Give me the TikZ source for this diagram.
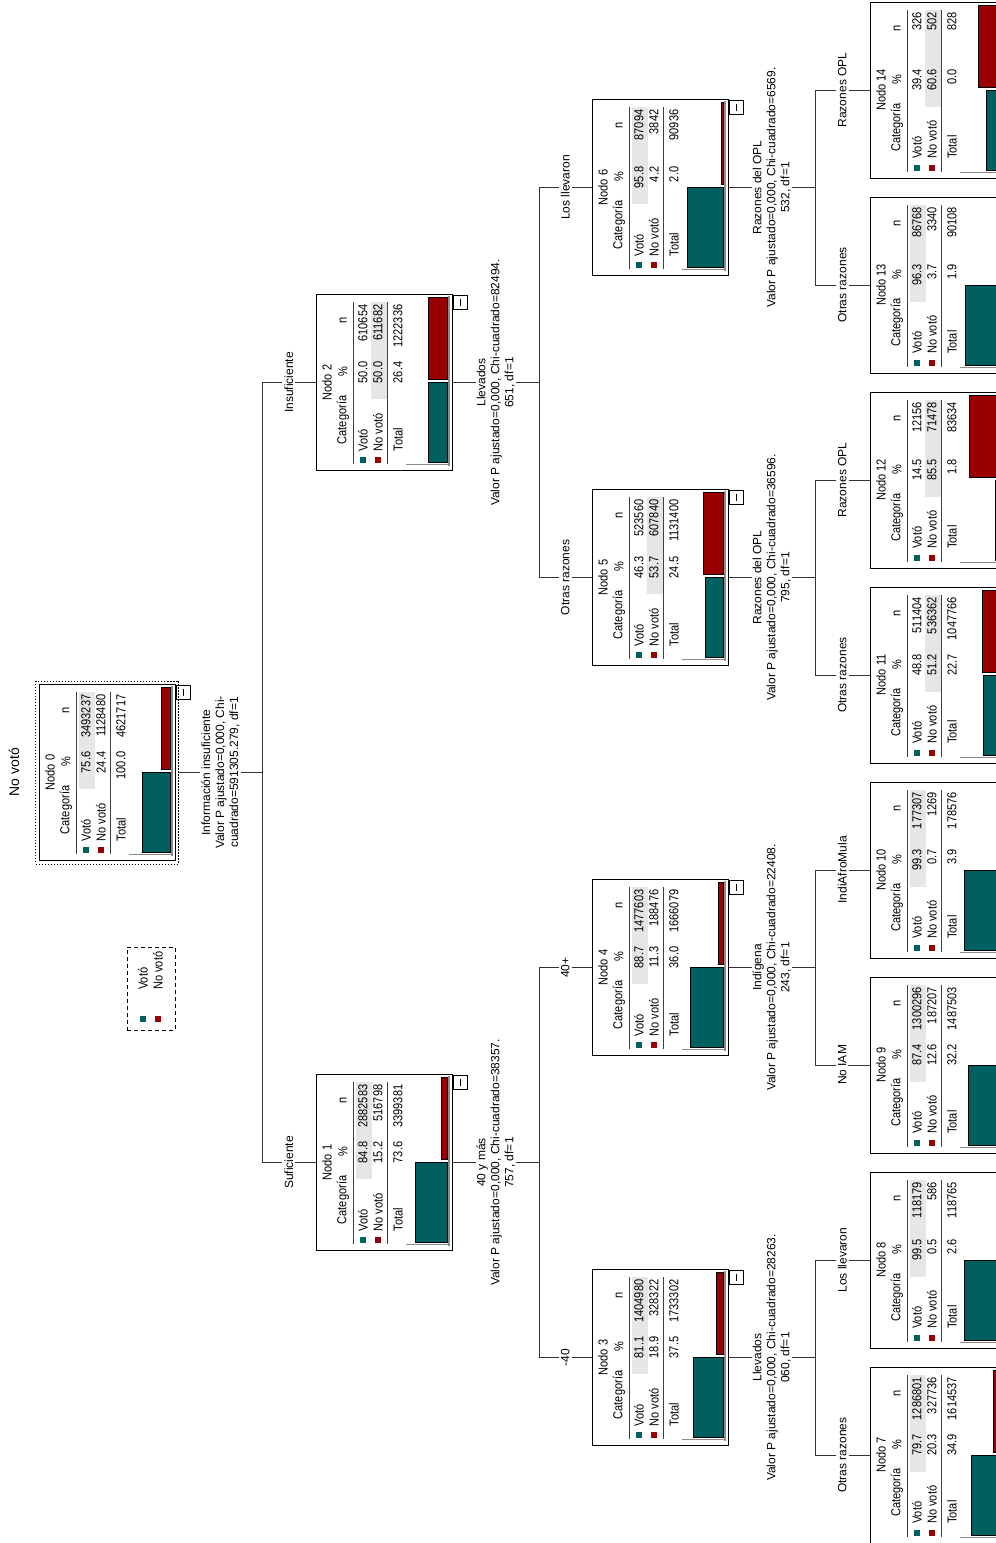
\documentclass[tikz,border=0pt]{standalone}
\usepackage{fontspec}
\setmainfont{Liberation Sans}
\newfontfamily\tabfam{Liberation Sans}[FakeStretch=0.85]
\newcommand{\lblfont}{\fontsize{12}{14}\selectfont}
\newcommand{\tabfont}{\tabfam\fontsize{13}{15}\selectfont}
\definecolor{Voto}{HTML}{005F5F}
\definecolor{NoVoto}{HTML}{990000}
\definecolor{RowGray}{HTML}{E6E6E6}
\tikzset{
    every node/.style={font=\lblfont},
    nodebox/.style={
        draw=black, line width=0.9pt,
        minimum width=176pt, minimum height=136pt,
        inner sep=0pt
    },
    rootframe/.style={
        draw=black, line width=0.8pt, dash pattern=on 1.5pt off 1.5pt,
        minimum width=183pt, minimum height=143pt, inner sep=0pt
    },
    cell/.style={font=\tabfont, inner sep=0pt},
    splitlabel/.style={fill=white, align=center, inner sep=1pt},
    branchlabel/.style={fill=white, inner sep=2pt},
    link/.style={draw=black!80, line width=0.9pt},
    rowline/.style={draw=black!75, line width=0.8pt},
    bar/.style={draw=black, line width=0.8pt},
}

\begin{document}
\begin{tikzpicture}[x=1pt, y=1pt]
    \useasboundingbox (0,0) rectangle (996,1543);
    \fill[white] (0,0) rectangle (996,1543);
    \clip (0,0) rectangle (996,1543);

    \begin{scope}[rotate=90, transform shape]
    % Nodes
    \foreach \nm/\bx/\by/\idx/\hrow/\pa/\pb/\ptot/\ca/\cb/\ctot in {
        n0/682.5/-39/0/1/75.6/24.4/100.0/3493237/1128480/4621717,
        n1/292.5/-316/1/1/84.8/15.2/73.6/2882583/516798/3399381,
        n2/1072.5/-316/2/2/50.0/50.0/26.4/610654/611682/1222336,
        n3/97.5/-592/3/1/81.1/18.9/37.5/1404980/328322/1733302,
        n4/487.5/-592/4/1/88.7/11.3/36.0/1477603/188476/1666079,
        n5/877.5/-592/5/2/46.3/53.7/24.5/523560/607840/1131400,
        n6/1267.5/-592/6/1/95.8/4.2/2.0/87094/3842/90936,
        n7/0/-870/7/1/79.7/20.3/34.9/1286801/327736/1614537,
        n8/195/-870/8/1/99.5/0.5/2.6/118179/586/118765,
        n9/390/-870/9/1/87.4/12.6/32.2/1300296/187207/1487503,
        n10/585/-870/10/1/99.3/0.7/3.9/177307/1269/178576,
        n11/780/-870/11/2/48.8/51.2/22.7/511404/536362/1047766,
        n12/975/-870/12/2/14.5/85.5/1.8/12156/71478/83634,
        n13/1170/-870/13/1/96.3/3.7/1.9/86768/3340/90108,
        n14/1365/-870/14/2/39.4/60.6/0.0/326/502/828}
    {
        \begin{scope}[shift={(\bx,\by)}]
            \fill[RowGray] (71,{-25-15*\hrow}) rectangle (168,{-41-15*\hrow});
            \node[nodebox] (\nm) at (88,-68) {};
            \node[cell] at (88,-11) {Nodo \idx};
            \node[cell, anchor=west] at (26,-27) {Categoría};
            \node[cell, anchor=east] at (104,-27) {\%};
            \node[cell] at (150,-27) {n};
            \draw[rowline] (6,-37) -- (168,-37);
            \fill[Voto] (7,-44) rectangle (13,-50);
            \fill[NoVoto] (7,-59) rectangle (13,-65);
            \node[cell, anchor=west] at (19,-47) {Votó};
            \node[cell, anchor=west] at (19,-62) {No votó};
            \node[cell, anchor=east] at (109,-47) {\pa};
            \node[cell, anchor=east] at (109,-62) {\pb};
            \node[cell, anchor=east] at (166,-47) {\ca};
            \node[cell, anchor=east] at (166,-62) {\cb};
            \draw[rowline] (6,-71) -- (168,-71);
            \node[cell, anchor=west] at (19,-82) {Total};
            \node[cell, anchor=east] at (109,-82) {\ptot};
            \node[cell, anchor=east] at (166,-82) {\ctot};
            % bar chart
            \draw[black!45, line width=1.6pt] (4,-133) -- (174,-133);
            \draw[black!45, line width=0.8pt] (6,-90) -- (6,-134);
            \draw[bar, fill=Voto] (8,-131) rectangle (88,{-131+0.37*\pa});
            \draw[bar, fill=NoVoto] (91,-131) rectangle (173,{-131+0.37*\pb});
            % collapse button
            \draw[line width=0.8pt] (161,-137) rectangle (175,-151);
            \draw[line width=0.8pt] (164.5,-144) -- (171.5,-144);
        \end{scope}
    }
    \node[rootframe] (n0frame) at (n0) {};

    % Title and legend
    \node[font=\fontsize{14}{16}\selectfont] (title) at (771,-14) {No votó};
    \draw[line width=0.8pt, dash pattern=on 4pt off 3pt] (513,-127) rectangle (596,-175);
    \fill[Voto] (521,-140) rectangle (527,-146);
    \fill[NoVoto] (521,-155) rectangle (527,-161);
    \node[cell, anchor=west] (legvoto) at (553,-143) {Votó};
    \node[cell, anchor=west] (legnovoto) at (553,-158) {No votó};

    % Split points
    \coordinate (s0) at (770.5,-262);
    \coordinate (s1) at (380.5,-539);
    \coordinate (s2) at (1160.5,-539);
    \coordinate (s3) at (185.5,-815);
    \coordinate (s4) at (575.5,-815);
    \coordinate (s5) at (965.5,-815);
    \coordinate (s6) at (1355.5,-815);

    % Connectors
    \draw[link] (n0frame.south) -- node[splitlabel] {Información insuficiente\\Valor P ajustado=0,000, Chi-\\cuadrado=591305.279, df=1} (s0);
    \draw[link] (s0) -| node[branchlabel, pos=0.75] {Suficiente} (n1.north);
    \draw[link] (s0) -| node[branchlabel, pos=0.75] {Insuficiente} (n2.north);

    \draw[link] (n1.south) -- node[splitlabel] {40 y más\\Valor P ajustado=0,000, Chi-cuadrado=38357.\\757, df=1} (s1);
    \draw[link] (s1) -| node[branchlabel, pos=0.75] {-40} (n3.north);
    \draw[link] (s1) -| node[branchlabel, pos=0.75] {40+} (n4.north);

    \draw[link] (n2.south) -- node[splitlabel] {Llevados\\Valor P ajustado=0,000, Chi-cuadrado=82494.\\651, df=1} (s2);
    \draw[link] (s2) -| node[branchlabel, pos=0.75] {Otras razones} (n5.north);
    \draw[link] (s2) -| node[branchlabel, pos=0.75] {Los llevaron} (n6.north);

    \draw[link] (n3.south) -- node[splitlabel] {Llevados\\Valor P ajustado=0,000, Chi-cuadrado=28263.\\060, df=1} (s3);
    \draw[link] (s3) -| node[branchlabel, pos=0.75] {Otras razones} (n7.north);
    \draw[link] (s3) -| node[branchlabel, pos=0.75] {Los llevaron} (n8.north);

    \draw[link] (n4.south) -- node[splitlabel] {Indígena\\Valor P ajustado=0,000, Chi-cuadrado=22408.\\243, df=1} (s4);
    \draw[link] (s4) -| node[branchlabel, pos=0.75] {No IAM} (n9.north);
    \draw[link] (s4) -| node[branchlabel, pos=0.75] {IndiAfroMula} (n10.north);

    \draw[link] (n5.south) -- node[splitlabel] {Razones del OPL\\Valor P ajustado=0,000, Chi-cuadrado=36596.\\795, df=1} (s5);
    \draw[link] (s5) -| node[branchlabel, pos=0.75] {Otras razones} (n11.north);
    \draw[link] (s5) -| node[branchlabel, pos=0.75] {Razones OPL} (n12.north);

    \draw[link] (n6.south) -- node[splitlabel] {Razones del OPL\\Valor P ajustado=0,000, Chi-cuadrado=6569.\\532, df=1} (s6);
    \draw[link] (s6) -| node[branchlabel, pos=0.75] {Otras razones} (n13.north);
    \draw[link] (s6) -| node[branchlabel, pos=0.75] {Razones OPL} (n14.north);
    \end{scope}
\end{tikzpicture}
\end{document}
